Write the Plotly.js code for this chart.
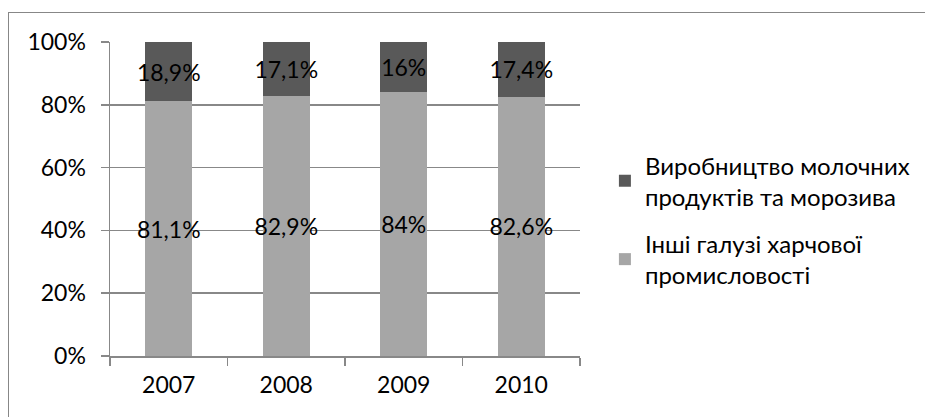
<!DOCTYPE html>
<html>
<head>
<meta charset="utf-8">
<script src="https://cdn.plot.ly/plotly-3.0.1.min.js"></script>
<style>
html,body{margin:0;padding:0;background:#fff;}
#wrap{position:relative;width:925px;height:417px;overflow:hidden;}
#chart{width:925px;height:417px;}
#frame{position:absolute;left:8px;top:12px;width:940px;height:420px;border-left:1.5px solid #878787;border-top:1.5px solid #878787;pointer-events:none;}
</style>
</head>
<body>
<div id="wrap"><div id="chart"></div><div id="frame"></div></div>
<script>
var years = ['2007', '2008', '2009', '2010'];
var dairy = [18.9, 17.1, 16, 17.4];
var other = [81.1, 82.9, 84, 82.6];
var seriesNames = ['Виробництво молочних<br>продуктів та морозива', 'Інші галузі харчової<br>промисловості'];
var yTicks = [0, 20, 40, 60, 80, 100];

function fmt(v) { return String(v).replace('.', ',') + '%'; }

var font = 'Lato, Open Sans, sans-serif';
var fs = 23;

var common = {
  type: 'bar',
  x: years,
  textposition: 'inside',
  insidetextanchor: 'middle',
  textangle: 0,
  constraintext: 'none',
  textfont: {family: font, size: fs, color: '#000'},
  hoverinfo: 'skip'
};

var tOther = Object.assign({}, common, {
  name: seriesNames[1],
  legendgroup: 'g2',
  legendrank: 2,
  y: other,
  text: other.map(fmt),
  marker: {color: '#a6a6a6', line: {width: 0}}
});
var tDairy = Object.assign({}, common, {
  name: seriesNames[0],
  legendgroup: 'g1',
  legendrank: 1,
  y: dairy,
  text: dairy.map(fmt),
  marker: {color: '#595959', line: {width: 0}}
});

var layout = {
  width: 925, height: 417,
  margin: {l: 110, r: 345, t: 42, b: 61, autoexpand: false},
  paper_bgcolor: '#fff', plot_bgcolor: '#fff',
  barmode: 'stack',
  bargap: 0.6,
  showlegend: true,
  font: {family: font, size: fs, color: '#000'},
  xaxis: {
    type: 'category',
    showline: true, linecolor: '#888', linewidth: 1.5,
    ticks: 'outside', ticklen: 8, tickcolor: '#888', tickwidth: 1.5,
    tickson: 'boundaries',
    showgrid: false,
    tickfont: {family: font, size: fs, color: '#000'},
    ticklabelstandoff: 8,
    fixedrange: true
  },
  yaxis: {
    range: [0, 100],
    tickvals: yTicks,
    ticktext: yTicks.map(function(v){return v + '%';}),
    showline: true, linecolor: '#888', linewidth: 1.5,
    ticks: 'outside', ticklen: 8, tickcolor: '#888', tickwidth: 1.5,
    showgrid: true, gridcolor: '#888', gridwidth: 1.5,
    zeroline: false,
    tickfont: {family: font, size: fs, color: '#000'},
    ticklabelstandoff: 10,
    fixedrange: true
  },
  legend: {
    x: 1.053, xanchor: 'left',
    y: 0.433, yanchor: 'middle',
    traceorder: 'grouped',
    tracegroupgap: 13,
    font: {family: font, size: 24, color: '#000'},
    bgcolor: 'rgba(0,0,0,0)',
    itemclick: false, itemdoubleclick: false
  }
};

Plotly.newPlot('chart', [tOther, tDairy], layout, {displayModeBar: false, staticPlot: true});
</script>
</body>
</html>
